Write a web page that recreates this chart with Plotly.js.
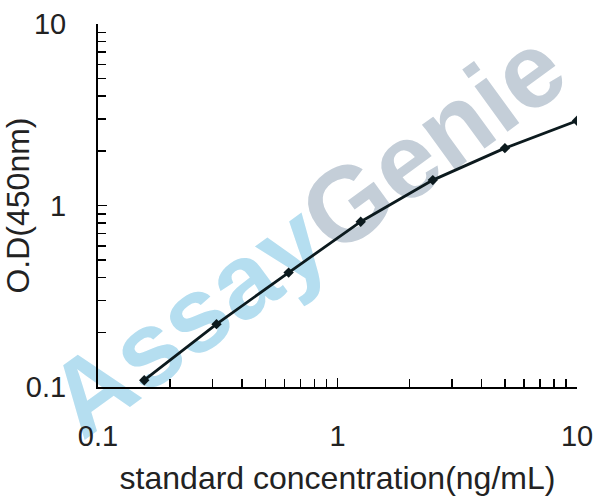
<!DOCTYPE html>
<html>
<head>
<meta charset="utf-8">
<script src="https://cdn.plot.ly/plotly-3.0.1.min.js"></script>
<style>
  html, body { margin: 0; padding: 0; background: #fff; }
  #myDiv { width: 608px; height: 503px; }
</style>
</head>
<body>
<div id="myDiv"></div>
<script>
// standard curve
var concentration = [0.156, 0.3125, 0.625, 1.25, 2.5, 5, 10];
var od450 = [0.109, 0.222, 0.427, 0.814, 1.38, 2.07, 2.93];

var tickVals = [0.1, 1, 10];
var tickText = ['0.1', '1', '10'];

var xTitle = 'standard concentration(ng/mL)';
var yTitle = 'O.D(450nm)';

var font = 'Arial, "Liberation Sans", sans-serif';

function plot() {
    var curve = {
        type: 'scatter',
        x: concentration,
        y: od450,
        mode: 'lines+markers',
        line: {
            color: '#0c1a1e',
            width: 2.8
        },
        marker: {
            symbol: 'diamond',
            size: 8,
            color: '#0c1a1e'
        },
        showlegend: false
    };

    var axis = {
        type: 'log',
        tickmode: 'array',
        tickvals: tickVals,
        ticktext: tickText,
        ticks: 'inside',
        ticklen: 9,
        tickwidth: 1.5,
        tickcolor: '#000',
        showline: true,
        linecolor: '#000',
        linewidth: 2,
        showgrid: false,
        zeroline: false,
        tickfont: { family: font, size: 29, color: '#222' },
        minor: {
            ticks: 'inside',
            ticklen: 8,
            tickwidth: 1.5,
            tickcolor: '#000',
            dtick: 'D1',
            showgrid: false
        }
    };

    var xaxis = Object.assign({}, axis, {
        range: [-1, 1],
        ticklabelstandoff: 22,
        title: { text: xTitle, font: { family: font, size: 32, color: '#222' }, standoff: 16 }
    });
    var yaxis = Object.assign({}, axis, {
        range: [-1, 1],
        ticklabelstandoff: 24,
        title: { text: yTitle, font: { family: font, size: 32, color: '#222' }, standoff: 11 }
    });

    // watermark text sitting under the curve
    var watermark = {
        type: 'line',
        xref: 'paper', yref: 'paper',
        x0: 0.084, y0: 0.122,
        x1: 0.760, y1: 0.772,
        line: { width: 0, color: 'rgba(0,0,0,0)' },
        layer: 'below',
        label: {
            text: '<span style="color:#b5def0">Assay</span><span style="color:#c4ced8">Genie</span>',
            textposition: 'middle',
            yanchor: 'middle',
            font: { family: font, size: 106, weight: 'bold', color: '#c4ced8' }
        }
    };

    var layout = {
        width: 608,
        height: 503,
        margin: { l: 98, r: 31, t: 24, b: 116 },
        paper_bgcolor: '#fff',
        plot_bgcolor: 'rgba(0,0,0,0)',
        xaxis: xaxis,
        yaxis: yaxis,
        shapes: [watermark]
    };

    Plotly.newPlot('myDiv', [curve], layout, { staticPlot: true });
}

plot();
</script>
</body>
</html>
